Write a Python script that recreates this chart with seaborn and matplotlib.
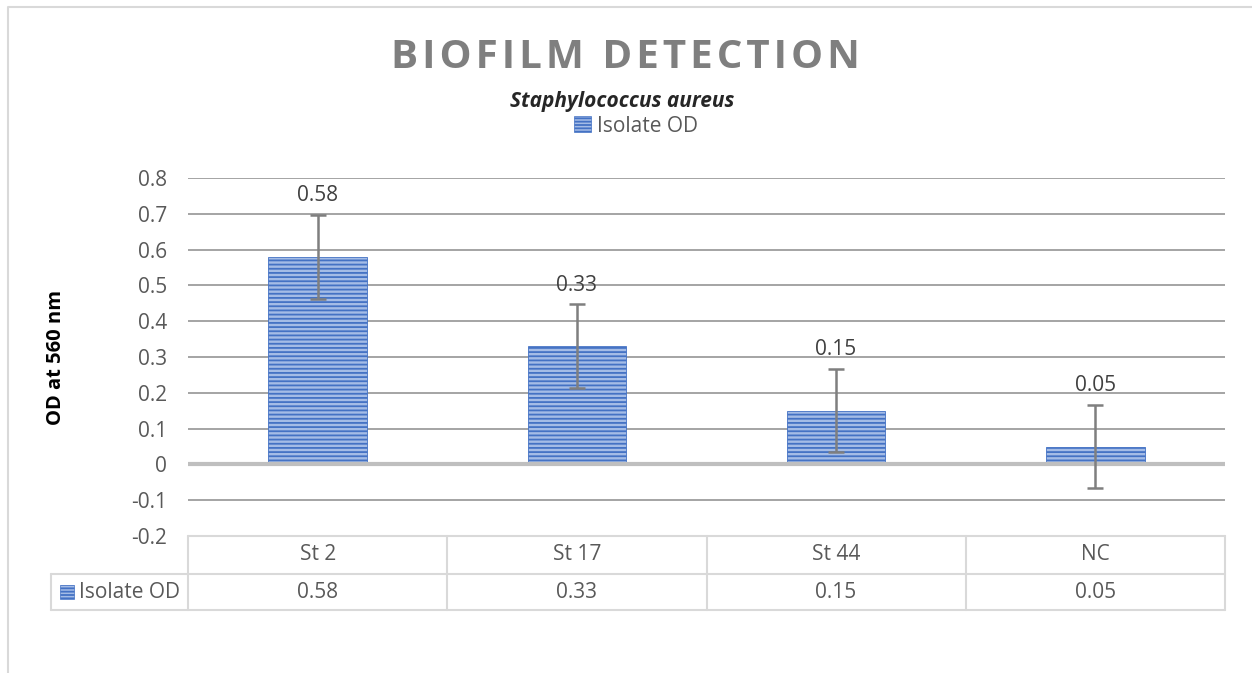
import numpy as np
import matplotlib
matplotlib.use("Agg")
import matplotlib.pyplot as plt
import matplotlib.transforms as mtransforms
from matplotlib.patches import Rectangle, Patch
from matplotlib.lines import Line2D
import seaborn as sns

# Data
categories = ["St 2", "St 17", "St 44", "NC"]
values = [0.58, 0.33, 0.15, 0.05]
errors = [0.117, 0.117, 0.116, 0.116]
series_name = "Isolate OD"
yticks = [-0.2, -0.1, 0, 0.1, 0.2, 0.3, 0.4, 0.5, 0.6, 0.7, 0.8]

sns.set_style("white")
plt.rcParams["font.family"] = ["Open Sans", "DejaVu Sans"]
plt.rcParams["hatch.linewidth"] = 1.3

W, H = 1252, 673
fig = plt.figure(figsize=(W / 100, H / 100), dpi=100)

def fx(x):
    return x / W

def fy(y):
    return 1 - y / H

ax = fig.add_axes([fx(188), fy(536), fx(1225 - 188), 358 / H])

bar_face = "#a4bce6"
bar_hatch = "#4472c4"
text_col = "#595959"
fs = 15

sns.barplot(x=categories, y=values, color=bar_face, width=0.38, ax=ax,
            saturation=1, edgecolor=bar_hatch, linewidth=0.6)
for p in ax.patches:
    p.set_hatch("----")

ax.errorbar(range(len(categories)), values, yerr=errors, fmt="none",
            ecolor="#7f7f7f", elinewidth=1.8, capsize=6, capthick=1.8, zorder=5)

# data labels
for i, v in enumerate(values):
    ax.annotate(f"{v:.2f}", (i, v), xytext=(0, 44), textcoords="offset points",
                ha="center", va="center", fontsize=fs, color="#404040")

ax.set_xlim(-0.5, len(categories) - 0.5)
ax.set_ylim(-0.2, 0.8)
ax.set_yticks(yticks)
ax.set_yticklabels([f"{round(t, 1):g}" for t in yticks], fontsize=fs, color=text_col)
ax.tick_params(axis="y", length=0, pad=15)
ax.set_xticks([])
ax.set_xlabel("")
for t in yticks[1:]:
    if t == 0:
        continue
    ax.axhline(t, color="#8c8c8c", lw=1.1, zorder=0)
ax.axhline(0, color="#bfbfbf", lw=3, zorder=4)
for s in ax.spines.values():
    s.set_visible(False)

ax.set_ylabel("OD at 560 nm", fontsize=14.5, fontweight="bold", color="black")
ax.yaxis.set_label_coords((66 - 188) / 1037, 0.5)

# data table below the axes
trans = mtransforms.blended_transform_factory(ax.transData, ax.transAxes)
line_col = "#d9d9d9"
unit = 4 / 1037
y_top, y_mid, y_bot = 0.0, -38 / 358, -74 / 358
x_left = -0.5 - (190 - 53) * unit
edges = np.arange(len(categories) + 1) - 0.5
ax.plot([edges[0], edges[-1]], [y_top, y_top], transform=trans, color=line_col, lw=1.5, clip_on=False)
ax.plot([x_left, edges[-1]], [y_mid, y_mid], transform=trans, color=line_col, lw=1.5, clip_on=False)
ax.plot([x_left, edges[-1]], [y_bot, y_bot], transform=trans, color=line_col, lw=1.5, clip_on=False)
ax.plot([x_left, x_left], [y_mid, y_bot], transform=trans, color=line_col, lw=1.5, clip_on=False)
for e in edges:
    ax.plot([e, e], [y_top, y_bot], transform=trans, color=line_col, lw=1.5, clip_on=False)
for i, c in enumerate(categories):
    ax.text(i, (y_top + y_mid) / 2, c, transform=trans, ha="center", va="center",
            fontsize=fs, color=text_col)
    ax.text(i, (y_mid + y_bot) / 2, f"{values[i]:.2f}", transform=trans, ha="center",
            va="center", fontsize=fs, color=text_col)
row_mid = (y_mid + y_bot) / 2
ax.add_patch(Rectangle((x_left + 9 * unit, row_mid - 7 / 358), 14 * unit, 14 / 358,
                       transform=trans, facecolor=bar_face, edgecolor=bar_hatch,
                       hatch="-----", lw=0.5, clip_on=False))
ax.text(x_left + 28 * unit, row_mid, series_name, transform=trans, ha="left",
        va="center", fontsize=fs, color=text_col)

# titles and legend
title = "\u200a".join("BIOFILM DETECTION")
fig.text(fx(625), fy(58), title, ha="center", va="center",
         fontsize=29, fontweight="bold", color="#7f7f7f")
fig.text(fx(622), fy(101), "Staphylococcus aureus", ha="center", va="center",
         fontsize=fs, fontweight="bold", fontstyle="italic", color="#262626")
handle = Patch(facecolor=bar_face, edgecolor=bar_hatch, hatch="-----", lw=0.5)
fig.legend([handle], [series_name], loc="center", bbox_to_anchor=(fx(636), fy(126)),
           frameon=False, fontsize=fs, labelcolor=text_col, handlelength=0.8,
           handleheight=0.8, handletextpad=0.3)

# chart border (top and left edges visible)
fig.lines.append(Line2D([fx(8), fx(8), 1], [0, fy(7), fy(7)], transform=fig.transFigure,
                        color="#d9d9d9", lw=1.5))

fig.savefig("out.png", dpi=100)
